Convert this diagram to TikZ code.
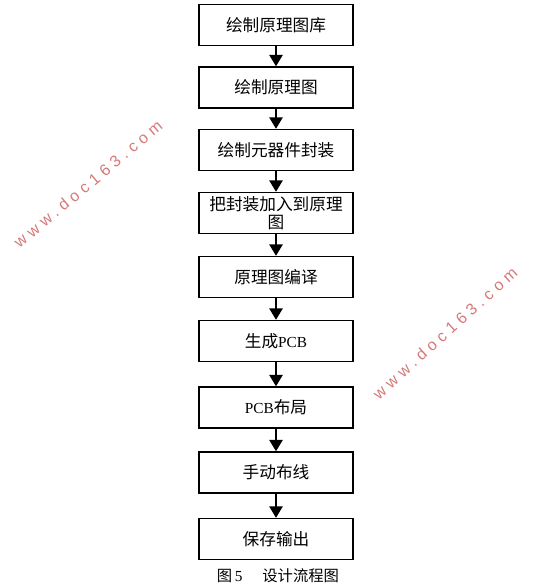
\documentclass[tikz,border=0pt]{standalone}
\usepackage{fontspec}
\setmainfont{Liberation Serif}
\newfontfamily\cjk{Noto Sans CJK SC}
\newfontfamily\wmfont[LetterSpace=30]{Liberation Sans}
\usetikzlibrary{arrows.meta}
\definecolor{wm}{RGB}{214,120,120}
\tikzset{
  stepbox/.style={draw=black, line width=1.1pt, minimum width=115.5pt, minimum height=30.75pt, inner sep=1pt, align=center, text width=112pt, font=\cjk\fontsize{12.5}{14}\selectfont},
  flowarrow/.style={-{Triangle[width=10pt,length=8.5pt]}, line width=1pt},
  wmtext/.style={text=wm, font=\wmfont\fontsize{12}{14}\selectfont}
}
\begin{document}
\begin{tikzpicture}[x=0.75pt,y=-0.75pt]
\useasboundingbox (0,0) rectangle (556,588);
\node[wmtext, rotate=40] (w1) at (88,184) {www.doc163.com};
\node[wmtext, rotate=42] (w2) at (445,333) {www.doc163.com};
\node[stepbox] (s1) at (276,25) {绘制原理图库};
\node[stepbox] (s2) at (276,87.5) {绘制原理图};
\node[stepbox] (s3) at (276,150) {绘制元器件封装};
\node[stepbox, font=\cjk\fontsize{12.5}{13.5}\selectfont] (s4) at (276,213) {把封装加入到原理\\图};
\node[stepbox] (s5) at (276,277) {原理图编译};
\node[stepbox] (s6) at (276,341) {生成{\rmfamily\fontsize{11.5}{14}\selectfont PCB}};
\node[stepbox] (s7) at (276,407.5) {{\rmfamily\fontsize{11.5}{14}\selectfont PCB}布局};
\node[stepbox] (s8) at (276,472.5) {手动布线};
\node[stepbox] (s9) at (276,539) {保存输出};
\node[font=\cjk\fontsize{11.5}{13}\selectfont] (cap) at (278,576) {图\,{\rmfamily 5}\hspace{1.3em}设计流程图};
\draw[flowarrow] (s1) -- (s2);
\draw[flowarrow] (s2) -- (s3);
\draw[flowarrow] (s3) -- (s4);
\draw[flowarrow] (s4) -- (s5);
\draw[flowarrow] (s5) -- (s6);
\draw[flowarrow] (s6) -- (s7);
\draw[flowarrow] (s7) -- (s8);
\draw[flowarrow] (s8) -- (s9);
\end{tikzpicture}
\end{document}
